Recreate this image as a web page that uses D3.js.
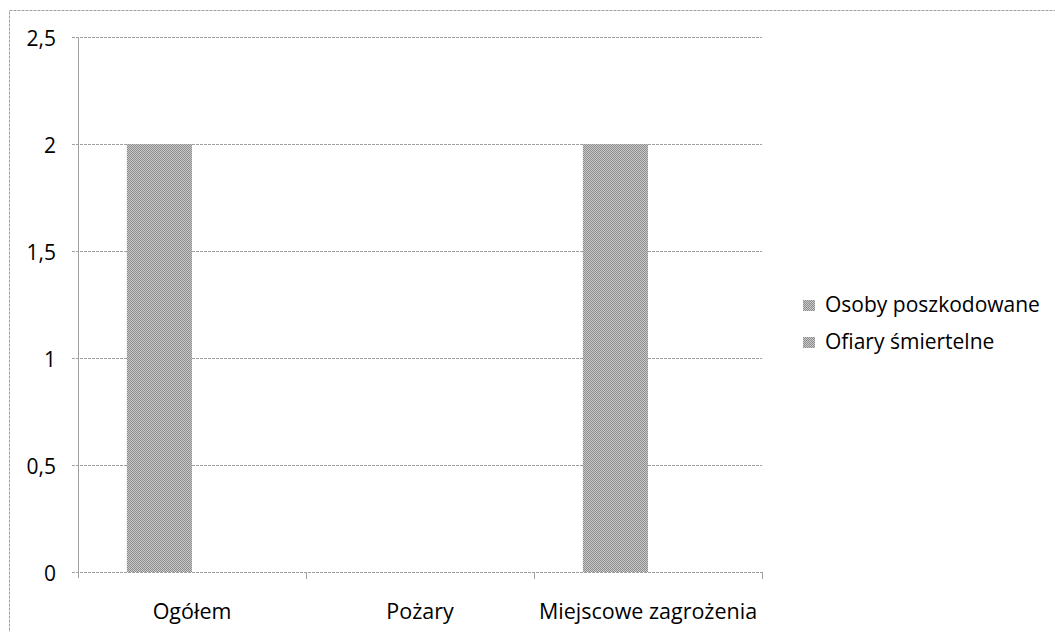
<!DOCTYPE html>
<html>
<head>
<meta charset="utf-8">
<script src="https://cdnjs.cloudflare.com/ajax/libs/d3/7.8.5/d3.min.js"></script>
<style>
  body { margin: 0; background: #fff; }
  text { font-family: "Open Sans", sans-serif; fill: #000; }
</style>
</head>
<body>
<div id="chart"></div>
<script>
var categories = ["Ogółem", "Pożary", "Miejscowe zagrożenia"];
var seriesNames = ["Osoby poszkodowane", "Ofiary śmiertelne"];
var osobyPoszkodowane = [2, 0, 2];
var ofiarySmiertelne = [0, 0, 0];
var yTicks = [0, 0.5, 1, 1.5, 2, 2.5];

var width = 1055, height = 632;
// plot area (window.top is read-only, so no "top" here)
var plotLeft = 78, plotRight = 762, plotTop = 37, plotBottom = 572;

var svg = d3.select("#chart").append("svg")
    .attr("width", width).attr("height", height);

// dithered grey like the scan
var defs = svg.append("defs");
var pat = defs.append("pattern").attr("id", "grey")
    .attr("width", 2).attr("height", 2).attr("patternUnits", "userSpaceOnUse");
pat.append("rect").attr("width", 2).attr("height", 2).attr("fill", "#c8c8c8");
pat.append("rect").attr("width", 1).attr("height", 1).attr("fill", "#8e8e8e");
pat.append("rect").attr("x", 1).attr("y", 1).attr("width", 1).attr("height", 1).attr("fill", "#8e8e8e");

// outer chart border
svg.append("rect")
    .attr("x", 9.5).attr("y", 10.5).attr("width", 1100).attr("height", 700)
    .attr("fill", "none").attr("stroke", "#a0a0a0").attr("stroke-dasharray", "3,1");

var y = d3.scaleLinear().domain([0, 2.5]).range([plotBottom, plotTop]);
var x0 = d3.scaleBand().domain(categories).range([plotLeft, plotRight]);
var x1 = d3.scaleBand().domain(seriesNames).range([0, x0.bandwidth()]).paddingOuter(0.75);

var pl = d3.formatLocale({decimal: ",", thousands: " ", grouping: [3], currency: ["", " zł"]});
var fmt = pl.format("~g");

// gridlines
svg.append("g").selectAll("line").data(yTicks).enter().append("line")
    .attr("x1", plotLeft - 6).attr("x2", plotRight)
    .attr("y1", function(d) { return Math.round(y(d)) + 0.5; })
    .attr("y2", function(d) { return Math.round(y(d)) + 0.5; })
    .attr("stroke", "#a0a0a0").attr("stroke-dasharray", "3,1");

// y labels
svg.append("g").selectAll("text").data(yTicks).enter().append("text")
    .attr("x", 56).attr("y", function(d) { return y(d) + 3; })
    .attr("text-anchor", "end").attr("dominant-baseline", "middle")
    .style("font-size", "21px")
    .text(function(d) { return fmt(d); });

// y axis line
svg.append("line").attr("x1", plotLeft + 0.5).attr("x2", plotLeft + 0.5)
    .attr("y1", plotTop).attr("y2", plotBottom + 6).attr("stroke", "#a0a0a0");

// x ticks at category boundaries
var bounds = categories.map(function(c) { return x0(c) + x0.bandwidth(); });
svg.append("g").selectAll("line").data(bounds).enter().append("line")
    .attr("x1", function(d) { return Math.round(d) + 0.5; })
    .attr("x2", function(d) { return Math.round(d) + 0.5; })
    .attr("y1", plotBottom).attr("y2", plotBottom + 7)
    .attr("stroke", "#a0a0a0");

// bars
var series = [osobyPoszkodowane, ofiarySmiertelne];
series.forEach(function(vals, si) {
    svg.append("g").selectAll("rect").data(vals).enter().append("rect")
        .attr("x", function(d, i) { return x0(categories[i]) + x1(seriesNames[si]); })
        .attr("width", x1.bandwidth())
        .attr("y", function(d) { return y(d); })
        .attr("height", function(d) { return y(0) - y(d); })
        .attr("fill", "url(#grey)");
});

// category labels
svg.append("g").selectAll("text").data(categories).enter().append("text")
    .attr("x", function(d) { return x0(d) + x0.bandwidth() / 2; })
    .attr("y", 613)
    .attr("text-anchor", "middle").attr("dominant-baseline", "middle")
    .style("font-size", "21.5px")
    .text(function(d) { return d; });

// legend
var legend = svg.append("g").selectAll("g").data(seriesNames).enter().append("g")
    .attr("transform", function(d, i) { return "translate(803," + (306 + i * 37) + ")"; });
legend.append("rect").attr("x", 0).attr("y", -6).attr("width", 12).attr("height", 11)
    .attr("fill", "url(#grey)");
legend.append("text").attr("x", 22).attr("y", 0)
    .attr("dominant-baseline", "middle")
    .style("font-size", "21px")
    .text(function(d) { return d; });
</script>
</body>
</html>
